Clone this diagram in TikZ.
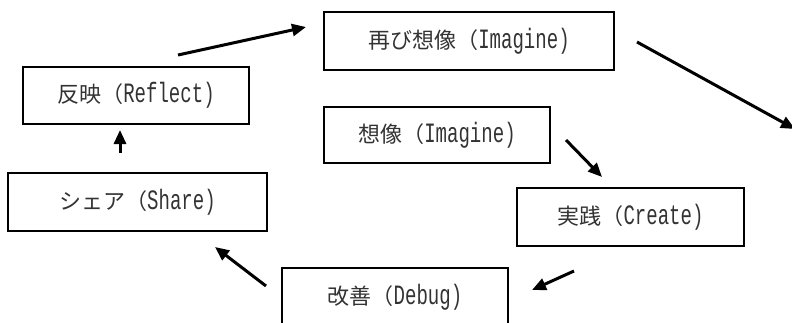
\documentclass[tikz,border=0pt]{standalone}
\usepackage{fontspec}
\setmainfont[FakeStretch=0.68]{Liberation Mono}
\newfontfamily\cjk{Noto Sans CJK JP}
\usetikzlibrary{arrows.meta}
\newcommand{\jp}[1]{{\cjk\fontsize{22}{24}\selectfont #1}}
\begin{document}
\begin{tikzpicture}[x=1pt,y=-1pt,
  box/.style={draw, line width=1.8pt, minimum height=57pt, inner sep=0pt,
    font=\fontsize{28}{30}\selectfont, text=black!80},
  arr/.style={line width=3pt, -{Triangle[length=14pt,width=12pt]}}]
\clip (0,0) rectangle (792,322);
\node[box, minimum width=226pt] (reflect) at (136,95.5) {\jp{反映（}Reflect)\hspace{12pt}};
\node[box, minimum width=290pt, minimum height=58pt] (reimag) at (469,41) {\jp{再び想像（}Imagine)\hspace{12pt}};
\node[box, minimum width=226pt, minimum height=56pt] (imag) at (437,135) {\jp{想像（}Imagine)\hspace{12pt}};
\node[box, minimum width=259pt, minimum height=58pt] (share) at (137.5,202) {\jp{シェア（}Share)\hspace{12pt}};
\node[box, minimum width=227pt, minimum height=58pt] (create) at (630.5,217) {\jp{実践（}Create)\hspace{12pt}};
\node[box, minimum width=226pt, minimum height=58pt] (debug) at (395,297) {\jp{改善（}Debug)\hspace{12pt}};
\coordinate (a1s) at (120,153); \coordinate (a1e) at (120,130);
\coordinate (a2s) at (178,55);  \coordinate (a2e) at (306,27);
\coordinate (a3s) at (637,42);  \coordinate (a3e) at (795,129);
\coordinate (a4s) at (566,140); \coordinate (a4e) at (602,177);
\coordinate (a5s) at (574,271); \coordinate (a5e) at (532,290);
\coordinate (a6s) at (266,286); \coordinate (a6e) at (215,247);
\draw[arr] (a1s) -- (a1e);
\draw[arr] (a2s) -- (a2e);
\draw[arr] (a3s) -- (a3e);
\draw[arr] (a4s) -- (a4e);
\draw[arr] (a5s) -- (a5e);
\draw[arr] (a6s) -- (a6e);
\end{tikzpicture}
\end{document}
